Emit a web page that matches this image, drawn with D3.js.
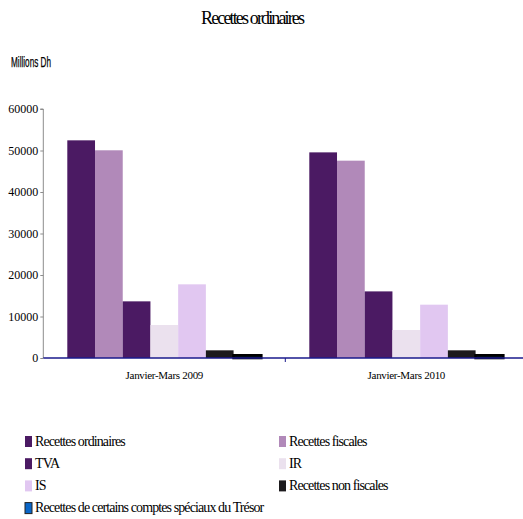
<!DOCTYPE html>
<html>
<head>
<meta charset="utf-8">
<script src="https://cdn.jsdelivr.net/npm/d3@7"></script>
<style>
  html, body { margin: 0; padding: 0; background: #fff; }
  svg { display: block; }
</style>
</head>
<body>
<svg id="chart" width="523" height="519"></svg>
<script>
// Periods shown on the x axis
const periods = ["Janvier-Mars  2009", "Janvier-Mars 2010"];

// Revenue series (millions Dh)
const series = [
  "Recettes ordinaires",
  "Recettes fiscales",
  "TVA",
  "IR",
  "IS",
  "Recettes non fiscales",
  "Recettes de certains comptes spéciaux du Trésor"
];
const values2009 = [52450, 50050, 13650, 7950, 17750, 1850, 650];
const values2010 = [49550, 47550, 16050, 6750, 12850, 1850, 650];

const colors = ["#4b1a63", "#b189b9", "#4b1a63", "#ebe1ee", "#e1c7f1", "#1c1a1d", "#0a66c8"];
const yTicks = [0, 10000, 20000, 30000, 40000, 50000, 60000];

const SERIF = '"Liberation Serif", "Times New Roman", Times, serif';
const SANS = '"Liberation Sans", Arial, sans-serif';

const svg = d3.select("#chart");

// Scales
const x0 = d3.scaleBand().domain(periods).range([43.3, 527.3]).paddingInner(0).paddingOuter(0);
const x1 = d3.scaleBand().domain(series).range([24, x0.bandwidth() - 24]).padding(0);
const y = d3.scaleLinear().domain([0, 60000]).range([358, 109]);

// Title
svg.append("text")
  .style("font-family", SERIF)
  .attr("x", 253).attr("y", 24)
  .attr("text-anchor", "middle")
  .attr("font-size", 18)
  .attr("textLength", 104).attr("lengthAdjust", "spacing")
  .attr("fill", "#000")
  .text("Recettes ordinaires");

// Unit label
svg.append("text")
  .style("font-family", SANS)
  .attr("x", 11).attr("y", 67)
  .attr("font-size", 14)
  .attr("textLength", 40).attr("lengthAdjust", "spacingAndGlyphs")
  .attr("fill", "#000")
  .attr("stroke", "#000").attr("stroke-width", 0.25)
  .text("Millions Dh");

// Bars
const data = periods.map((p, i) => ({
  period: p,
  vals: series.map((s, j) => ({ key: s, value: (i === 0 ? values2009 : values2010)[j], color: colors[j] }))
}));

const groups = svg.append("g").selectAll("g")
  .data(data).join("g")
  .attr("transform", d => `translate(${x0(d.period)},0)`);

groups.selectAll("rect")
  .data(d => d.vals).join("rect")
  .attr("x", d => x1(d.key))
  .attr("y", d => y(d.value))
  .attr("width", x1.bandwidth())
  .attr("height", d => y(0) - y(d.value))
  .attr("fill", d => d.color)
  .attr("stroke", d => d.key.startsWith("Recettes de certains") ? "#000" : "none")
  .attr("stroke-width", 2.6);

// Y axis
const yAxis = svg.append("g")
  .attr("transform", "translate(43.3,0)")
  .call(d3.axisLeft(y).tickValues(yTicks).tickFormat(d3.format("d")).tickSize(3).tickPadding(2));
yAxis.select(".domain").attr("stroke", "#8c8c8c").attr("d", `M-3,${y(60000)}H0V${y(0)}`);
yAxis.selectAll(".tick line").attr("stroke", "#8c8c8c");
yAxis.selectAll(".tick text")
  .style("font-family", SERIF)
  .attr("font-size", 12).attr("fill", "#000");

// X axis
const xAxis = svg.append("g")
  .attr("transform", `translate(0,${y(0)})`)
  .call(d3.axisBottom(x0).tickSize(0).tickPadding(13));
xAxis.select(".domain").attr("stroke", "#1a1a8c").attr("stroke-width", 1.5)
  .attr("d", `M${x0.range()[0]},0H${x0.range()[1]}`);
xAxis.selectAll(".tick text")
  .style("font-family", SERIF)
  .attr("font-size", 11).attr("fill", "#000")
  .attr("letter-spacing", "-0.3px");
// divider tick between the two periods
xAxis.append("line")
  .attr("x1", x0(periods[1])).attr("x2", x0(periods[1]))
  .attr("y1", 0).attr("y2", 4)
  .attr("stroke", "#1a1a8c").attr("stroke-width", 1);

// Legend (two columns)
const legend = svg.append("g").selectAll("g")
  .data(series.map((s, i) => ({ key: s, color: colors[i], i })))
  .join("g")
  .attr("transform", d => `translate(${d.i % 2 === 0 ? 25 : 279},${436 + Math.floor(d.i / 2) * 22.2})`);

legend.append("rect")
  .attr("width", 7).attr("height", 11)
  .attr("fill", d => d.color)
  .attr("stroke", d => d.key.startsWith("Recettes de certains") ? "#222" : "none")
  .attr("stroke-width", 1);

legend.append("text")
  .style("font-family", SERIF)
  .attr("x", 10).attr("y", 9.5)
  .attr("font-size", 14)
  .attr("letter-spacing", "-0.9px")
  .attr("fill", "#000")
  .text(d => d.key);
</script>
</body>
</html>
